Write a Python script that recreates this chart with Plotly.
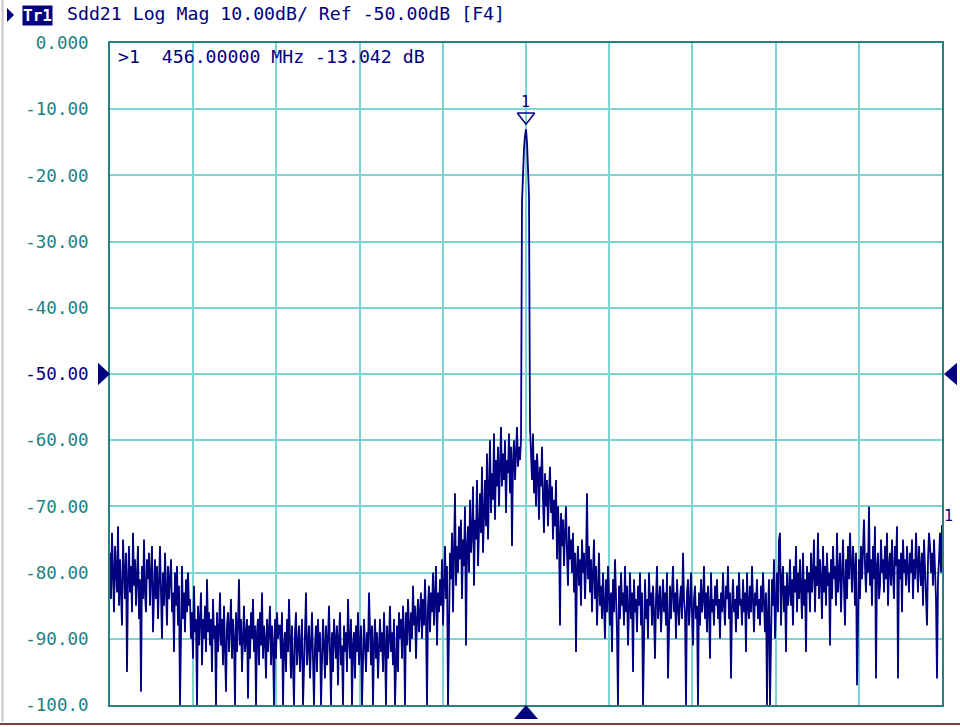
import numpy as np
import plotly.graph_objects as go

# ---------------- data ----------------
start_mhz = 406.0
center_mhz = 456.0
stop_mhz = 506.0
marker_freq = 456.0
marker_db = -13.042
ref_level = -50.0
y_top = 0.0
y_bottom = -100.0
tick_db = [0, -10, -20, -30, -40, -50, -60, -70, -80, -90, -100]
tick_labels = ["0.000", "-10.00", "-20.00", "-30.00", "-40.00", "-50.00",
               "-60.00", "-70.00", "-80.00", "-90.00", "-100.0"]

# noise floor, left part of the sweep
floor_a = [
    -77, -84, -74, -81, -86, -76, -79, -83, -73, -85, -78, -82, -88, -75, -80, -84, -77, -95, -81, -76,
    -83, -79, -86, -74, -82, -78, -85, -80, -76, -87, -81, -98, -79, -84, -75, -83, -86, -78, -81, -77,
    -85, -80, -76, -89, -82, -78, -84, -79, -87, -81, -76, -83, -90, -80, -85, -77, -82, -88, -79, -84,
    -81, -78, -86, -83, -92, -80, -85, -79, -88, -82, -100, -84, -79, -87, -83, -89, -81, -86, -80, -85,
]
floor_b = [
    -84, -90, -86, -93, -82, -89, -87, -100, -85, -91, -88, -83, -94, -87, -90, -85, -92, -81, -89, -86,
    -91, -87, -95, -84, -90, -88, -100, -86, -92, -89, -83, -91, -87, -94, -85, -90, -98, -88, -86, -92,
    -89, -84, -93, -87, -90, -100, -86, -92, -88, -81, -91, -87, -95, -89, -85, -92, -90, -87, -99, -88,
    -93, -86, -90, -84, -92, -88, -100, -89, -87, -94, -86, -91, -83, -93, -88, -90, -96, -87, -92, -89,
    -85, -94, -88, -91, -100, -87, -93, -86, -90, -88,
]
floor_c = [
    -88, -93, -86, -100, -91, -89, -95, -87, -92, -84, -90, -96, -88, -93, -100, -89, -86, -94, -91, -88,
    -95, -90, -87, -100, -92, -89, -83, -94, -91, -88, -96, -90, -86, -93, -100, -91, -88, -95, -87, -92,
    -89, -100, -93, -87, -91, -96, -88, -94, -90, -85, -92, -100, -89, -95, -87, -91, -93, -88, -97, -90,
    -86, -94, -91, -100, -88, -92, -89, -95, -84, -90, -93, -87, -100, -91, -89, -96, -88, -92, -86, -94,
    -90, -88, -100, -93, -87, -91, -95, -89, -92, -83, -90, -94, -88, -100, -91, -87, -93, -89, -96, -90,
    -87, -92, -89, -95, -86, -91, -100, -88, -93, -90, -85, -92, -89, -94, -87, -100, -91, -88, -95, -86,
    -90, -87, -93, -85, -89, -100, -86, -91, -84, -88, -92, -86, -90, -82, -88, -85, -93, -87, -84, -89,
]
# skirt rising towards the carrier
rise_left = [
    -86, -83, -90, -84, -88, -81, -87, -100, -85, -82, -89, -83, -86, -80, -88, -84, -79, -91, -83, -86,
    -81, -85, -78, -88, -82, -76, -84, -79, -100, -83, -77, -81, -74, -86, -79, -68, -82, -76, -80, -73,
    -78, -72, -84, -75, -79, -70, -91, -76, -73, -80, -69, -77, -74, -67, -82, -72, -75, -66, -79, -71,
    -68, -74, -64, -77, -70, -66, -73, -62, -75, -68, -60, -71, -65, -69, -59, -72, -63, -67, -61, -70,
    -64, -58, -67, -62, -66, -60, -71, -63, -65, -59, -68, -61, -76, -63, -60, -66, -62, -58, -64, -61,
    -63, -60,
]
peak_up = [-24, -19, -16, -14, -13.042]
peak_down = [-15, -19, -23, -58]
# skirt falling after the carrier
fall_right = [
    -61, -66, -59, -68, -63, -70, -62, -65, -72, -64, -67, -61, -69, -74, -65, -70, -66, -73, -68, -64,
    -71, -67, -75, -69, -73, -66, -78, -70, -74, -88, -71, -76, -72, -79, -74, -70, -77, -82, -73, -78,
    -75, -80, -74, -83, -77, -92, -79, -76, -82, -78, -85, -75, -80, -77, -84, -79, -68, -81, -76, -83,
    -78, -86, -80, -75, -84, -79, -88, -81, -77, -85,
]
floor_f = [
    -82, -87, -80, -85, -90, -81, -86, -79, -84, -88, -83, -92, -81, -86, -78, -84, -89, -100, -82, -87,
    -80, -85, -83, -88, -79, -86, -82, -91, -84, -80, -87, -83, -95, -81, -86, -84, -89, -82, -85, -80,
    -88, -83, -100, -86, -81, -87, -84, -90, -80, -85, -83, -88, -82, -86, -93, -84, -79, -87, -85, -82,
    -89, -84, -81, -86, -83, -88, -80, -96, -85, -82, -87, -84, -79, -86, -83, -90, -81, -85, -88, -84,
    -82, -87, -77, -84, -86, -100, -83, -81, -88, -85, -80, -86, -91, -84, -82, -87, -85, -100, -83, -88,
    -81, -86, -84, -79, -87, -83, -89, -82, -85, -93, -80, -86, -84, -88, -82, -85, -81, -87, -84, -90,
    -83, -86, -80, -85, -88, -82, -84, -79, -87, -83, -96, -85, -81, -86, -84, -89, -82, -87, -80, -85,
    -84, -88, -81, -86, -83, -92, -80, -85, -87, -82, -86, -79, -84, -89, -83, -85, -81, -87, -84, -88,
    -82, -86, -80, -85, -89, -83, -100, -86, -81, -100,
]
floor_g = [
    -87, -81, -85, -78, -90, -83, -80, -86, -75, -74, -88, -81, -79, -86, -82, -92, -80, -85, -83, -78,
    -85, -81, -88, -79, -83, -76, -86, -80, -84, -78, -82, -87, -77, -85, -81, -92, -79, -83, -80, -86,
    -77, -83, -80, -75, -86, -79, -82, -74, -84, -78, -81, -87, -76, -83, -79, -85, -77, -82, -80, -91,
    -78, -84, -76, -81, -79, -85, -74, -83, -80, -77, -86, -79, -75, -82, -88, -78, -84, -76, -81, -74,
    -80, -83, -76, -79, -85, -77, -97, -82, -78, -84, -76, -81, -75, -72, -79, -83, -77, -80, -70, -82,
    -78, -85, -76, -81, -73, -96, -79, -77, -84, -82, -75, -80, -78, -83, -76, -81, -74, -85, -79, -77,
    -82, -75, -80, -84, -76, -79, -73, -96, -78, -81, -77, -86, -75, -80, -78, -82, -76, -79, -83, -77,
    -80, -75, -84, -78, -81, -74, -79, -83, -76, -80, -82, -77, -85, -75, -79, -81, -88, -78, -74, -76,
    -80, -77, -82, -75, -79, -84, -96, -81, -78, -74, -80, -72.8,
]

# ---------------- build trace ----------------
left_vals = floor_a + floor_b + floor_c + rise_left + peak_up
right_vals = peak_down + fall_right + floor_f + floor_g
x_left = np.linspace(start_mhz, center_mhz, len(left_vals))
x_right = np.linspace(center_mhz, stop_mhz, len(right_vals) + 1)[1:]
freq = np.concatenate([x_left, x_right])
mag = np.array(left_vals + right_vals, dtype=float)

NAVY = "#000080"
TEAL_TXT = "#1b8383"
GRID = "#7fd3d3"
FRAME = "#2b7f7f"
FONT = "DejaVu Sans Mono"

W, H = 960, 727
ML, MR, MT, MB = 110, 18, 43, 20
PW, PH = W - ML - MR, H - MT - MB


def px(x):
    return (x - ML) / PW


def py(y):
    return (H - MB - y) / PH


fig = go.Figure()
fig.add_trace(go.Scatter(x=freq, y=mag, mode="lines",
                         line=dict(color=NAVY, width=1.8), hoverinfo="skip"))
# marker 1 symbol
fig.add_trace(go.Scatter(x=[marker_freq], y=[marker_db + 1.9], mode="markers",
                         marker=dict(symbol="triangle-down-open", size=15,
                                     color=NAVY, line=dict(color=NAVY, width=1.5)),
                         hoverinfo="skip", cliponaxis=False))

ticktext = []
for v, t in zip(tick_db, tick_labels):
    if v == ref_level:
        ticktext.append("<span style='color:%s'>%s</span>" % (NAVY, t))
    else:
        ticktext.append(t)

fig.update_layout(
    width=W, height=H,
    margin=dict(l=ML, r=MR, t=MT, b=MB),
    paper_bgcolor="white", plot_bgcolor="white",
    showlegend=False,
    font=dict(family=FONT, color=NAVY),
    xaxis=dict(range=[start_mhz, stop_mhz], dtick=(stop_mhz - start_mhz) / 10,
               tick0=start_mhz, showticklabels=False, ticks="",
               showgrid=True, gridcolor=GRID, gridwidth=2, zeroline=False,
               showline=True, linecolor=FRAME, linewidth=2, mirror=True),
    yaxis=dict(range=[y_bottom, y_top], tickvals=tick_db, ticktext=ticktext,
               ticks="", ticklabelstandoff=16,
               tickfont=dict(family=FONT, size=17.5, color=TEAL_TXT),
               showgrid=True, gridcolor=GRID, gridwidth=2, zeroline=False,
               showline=True, linecolor=FRAME, linewidth=2, mirror=True),
)

annotations = [
    dict(xref="paper", yref="paper", x=px(65), y=py(13), xanchor="left", yanchor="middle",
         text="Sdd21 Log Mag 10.00dB/ Ref %.2fdB [F4]" % ref_level,
         showarrow=False, font=dict(family=FONT, size=18.2, color=NAVY)),
    dict(xref="paper", yref="paper", x=px(37), y=py(15), xanchor="center", yanchor="middle",
         text="<b>Tr1</b>", bgcolor=NAVY, borderpad=0, showarrow=False,
         font=dict(family=FONT, size=16, color="white")),
    dict(xref="paper", yref="paper", x=px(116), y=py(57), xanchor="left", yanchor="middle",
         text=">1\u00a0\u00a0%.5f MHz %.3f dB" % (marker_freq, marker_db),
         showarrow=False, font=dict(family=FONT, size=18.2, color=NAVY)),
    dict(xref="x", yref="y", x=marker_freq, y=marker_db, yshift=27, xshift=-1,
         xanchor="center", yanchor="middle", text="1", showarrow=False,
         font=dict(family=FONT, size=15, color=NAVY)),
    dict(xref="paper", yref="y", x=1, y=mag[-1], xshift=0, yshift=9,
         xanchor="left", yanchor="middle", text="1", showarrow=False,
         font=dict(family=FONT, size=15, color=NAVY)),
]
fig.update_layout(annotations=annotations)

shapes = [
    # header small triangle
    dict(type="path", xref="paper", yref="paper",
         path="M %f %f L %f %f L %f %f Z" % (px(7), py(8), px(14), py(15), px(7), py(22)),
         fillcolor=NAVY, line=dict(width=0)),
    # left ref triangle
    dict(type="path", xref="paper", yref="y",
         path="M %f %f L %f %f L %f %f Z" % (px(98), ref_level + 1.7, px(110), ref_level,
                                             px(98), ref_level - 1.7),
         fillcolor=NAVY, line=dict(width=0)),
    # right ref triangle
    dict(type="path", xref="paper", yref="y",
         path="M %f %f L %f %f L %f %f Z" % (px(957), ref_level + 1.7, px(944), ref_level,
                                             px(957), ref_level - 1.7),
         fillcolor=NAVY, line=dict(width=0)),
    # bottom stimulus triangle
    dict(type="path", xref="x", yref="paper",
         path="M %f %f L %f %f L %f %f Z" % (
             marker_freq - 12 / PW * (stop_mhz - start_mhz), py(721),
             marker_freq, py(707),
             marker_freq + 12 / PW * (stop_mhz - start_mhz), py(721)),
         fillcolor=NAVY, line=dict(width=0)),
    # window borders
    dict(type="line", xref="paper", yref="paper", x0=px(2.5), x1=px(2.5), y0=py(0), y1=py(724),
         line=dict(color="#c8c8c8", width=2)),
    dict(type="line", xref="paper", yref="paper", x0=px(0), x1=px(960), y0=py(726), y1=py(726),
         line=dict(color="#7a4040", width=2)),
]
fig.update_layout(shapes=shapes)

fig.write_html("out.html", config={"displayModeBar": False},
               post_script="document.body.style.margin='0';document.body.style.overflow='hidden';")
